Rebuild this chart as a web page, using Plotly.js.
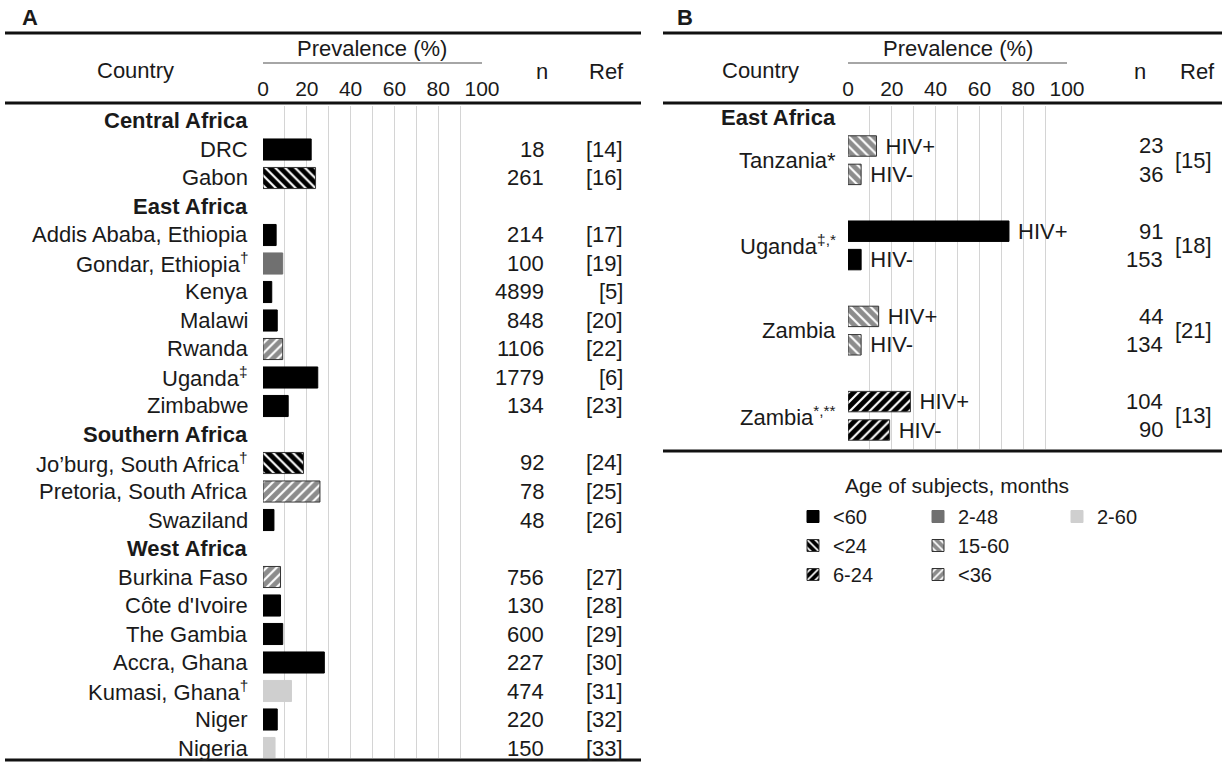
<!DOCTYPE html>
<html><head><meta charset="utf-8">
<script src="https://cdn.plot.ly/plotly-3.0.1.min.js"></script>
<style>html,body{margin:0;padding:0;background:#fff}</style>
</head><body><div id="chart" style="width:1226px;height:765px"></div>
<script>
// ---------- Panel A data ----------
const countriesA = ['DRC','Gabon','Addis Ababa, Ethiopia','Gondar, Ethiopia<sup>†</sup>','Kenya','Malawi','Rwanda','Uganda<sup>‡</sup>','Zimbabwe','Jo’burg, South Africa<sup>†</sup>','Pretoria, South Africa','Swaziland','Burkina Faso',"Côte d'Ivoire",'The Gambia','Accra, Ghana','Kumasi, Ghana<sup>†</sup>','Niger','Nigeria'];
const regionsA = ['Central Africa','Central Africa','East Africa','East Africa','East Africa','East Africa','East Africa','East Africa','East Africa','Southern Africa','Southern Africa','Southern Africa','West Africa','West Africa','West Africa','West Africa','West Africa','West Africa','West Africa'];
const prevA = [22,24,6,9,4,6.5,9,25,11.5,18.5,26,5,8,8,9,28,13,6.5,5.5];
const nA = [18,261,214,100,4899,848,1106,1779,134,92,78,48,756,130,600,227,474,220,150];
const refA = ['[14]','[16]','[17]','[19]','[5]','[20]','[22]','[6]','[23]','[24]','[25]','[26]','[27]','[28]','[29]','[30]','[31]','[32]','[33]'];
const ageA = ['<60','<24','<60','2-48','<60','<60','<36','<60','<60','<24','<36','<60','<36','<60','<60','<60','2-60','<60','2-60'];

// ---------- Panel B data ----------
const regionB = 'East Africa';
const countriesB = ['Tanzania*','Uganda<sup>‡,*</sup>','Zambia','Zambia<sup>*,**</sup>'];
const hivLabels = ['HIV+','HIV-'];
const prevBpos = [13,73.5,14,28.5];
const prevBneg = [6,6,6,19];
const nBpos = [23,91,44,104];
const nBneg = [36,153,134,90];
const refB = ['[15]','[18]','[21]','[13]'];
const ageB = ['15-60','<60','15-60','6-24'];

// ---------- Axis / legend text ----------
const tickVals = [0,20,40,60,80,100];
const tickText = ['0','20','40','60','80','100'];
const legendTitle = 'Age of subjects, months';
const ageCats = ['<60','<24','6-24','2-48','15-60','<36','2-60'];

// ---------- styles ----------
const STY = {
  '<60':  {bg:'#000000', shape:''},
  '<24':  {bg:'#000000', shape:'\\'},
  '6-24': {bg:'#000000', shape:'/'},
  '2-48': {bg:'#707070', shape:''},
  '15-60':{bg:'#8c8c8c', shape:'\\'},
  '<36':  {bg:'#8c8c8c', shape:'/'},
  '2-60': {bg:'#cfcfcf', shape:''}
};
const LEG = {'<60':['legend',1],'<24':['legend',2],'6-24':['legend',3],'2-48':['legend2',1],'15-60':['legend2',2],'<36':['legend2',3],'2-60':['legend3',1]};

const W=1226, H=765;
const px = x => x/W, py = y => 1 - y/H;
const FONT = 'Liberation Sans, Arial, sans-serif';
const TXT = '#1a1a1a';
const FS = 22;

// Row layout for A
const rowIdx = []; const headerRows = [];
let r = 0, lastReg = null;
countriesA.forEach((c,i)=>{
  if (regionsA[i] !== lastReg){ headerRows.push({name:regionsA[i], row:r}); r++; lastReg = regionsA[i]; }
  rowIdx.push(r); r++;
});
const A0 = 121, AS = 28.5, ATop = 106, ABot = 758;
const BS = 28.4, B0 = 117.6, BTop = 106, BBot = 449;
const slotPos = countriesB.map((c,i)=>1+3*i);
const slotNeg = countriesB.map((c,i)=>2+3*i);

function marker(cat){
  const s = STY[cat];
  const ln = s.shape ? '#333' : s.bg;
  return {color:s.bg, line:{color:ln, width:1},
    pattern:{shape:s.shape, bgcolor:s.bg, fgcolor:'#ffffff', size:7, solidity:0.3, fillmode:'replace'}};
}

const traces = [];
const shown = new Set();
ageCats.forEach(cat=>{
  const xs=[], ys=[];
  ageA.forEach((a,i)=>{ if(a===cat){ xs.push(prevA[i]); ys.push(rowIdx[i]); } });
  if (xs.length){
    traces.push({type:'bar', orientation:'h', x:xs, y:ys, width:0.74, xaxis:'x', yaxis:'y',
      name:cat, legendgroup:cat, showlegend:!shown.has(cat), legend:LEG[cat][0], legendrank:LEG[cat][1],
      marker:marker(cat), hoverinfo:'skip'});
    shown.add(cat);
  }
});
ageCats.forEach(cat=>{
  const xs=[], ys=[], tx=[];
  ageB.forEach((a,i)=>{ if(a===cat){ xs.push(prevBpos[i], prevBneg[i]); ys.push(slotPos[i], slotNeg[i]); tx.push('\u00a0'+hivLabels[0], '\u00a0'+hivLabels[1]); } });
  if (xs.length){
    traces.push({type:'bar', orientation:'h', x:xs, y:ys, width:0.72, xaxis:'x2', yaxis:'y2',
      text:tx, textposition:'outside', constraintext:'none', cliponaxis:false, textfont:{family:FONT, size:FS, color:TXT},
      name:cat, legendgroup:cat, showlegend:!shown.has(cat), legend:LEG[cat][0], legendrank:LEG[cat][1],
      marker:marker(cat), hoverinfo:'skip'});
    shown.add(cat);
  }
});

const ann = [];
function A(x,y,text,opt){ ann.push(Object.assign({x:x,y:y,text:text,showarrow:false,xref:'paper',yref:'paper',font:{family:FONT,size:FS,color:TXT},xanchor:'center',yanchor:'middle'},opt||{})); }
A(px(20),py(17),'<b>A</b>',{xanchor:'left'});
A(px(675),py(17),'<b>B</b>',{xanchor:'left'});
A(px(135),py(70),'Country');
A(px(372),py(48),'Prevalence (%)');
A(px(542),py(71),'n');
A(px(606),py(71),'Ref');
A(px(760),py(70),'Country');
A(px(958),py(48),'Prevalence (%)');
A(px(1140),py(71),'n');
A(px(1197),py(71),'Ref');
headerRows.forEach(h=>A(px(250),h.row,'<b>'+h.name+'</b>',{yref:'y',xanchor:'right'}));
countriesA.forEach((c,i)=>{
  A(px(250),rowIdx[i],c,{yref:'y',xanchor:'right'});
  A(px(546),rowIdx[i],String(nA[i]),{yref:'y',xanchor:'right'});
  A(px(625),rowIdx[i],refA[i],{yref:'y',xanchor:'right'});
});
A(px(838),0,'<b>'+regionB+'</b>',{yref:'y2',xanchor:'right'});
countriesB.forEach((c,i)=>{
  const mid = (slotPos[i]+slotNeg[i])/2;
  A(px(838),mid,c,{yref:'y2',xanchor:'right'});
  A(px(1165),slotPos[i],String(nBpos[i]),{yref:'y2',xanchor:'right'});
  A(px(1165),slotNeg[i],String(nBneg[i]),{yref:'y2',xanchor:'right'});
  A(px(1214),mid,refB[i],{yref:'y2',xanchor:'right'});
});
A(px(957),py(485),legendTitle,{font:{family:FONT,size:21,color:TXT}});

const shapes = [];
function L(x0,x1,y,w,c){ shapes.push({type:'line',xref:'paper',yref:'paper',x0:px(x0),x1:px(x1),y0:py(y),y1:py(y),line:{color:c||'#111',width:w}}); }
L(5,641,33,3); L(5,641,103,3); L(5,641,760,3);
L(663,1222,33,3); L(663,1222,103,3); L(663,1222,451,3);
L(263,482,63,1.5,'#888'); L(848,1067,63,1.5,'#888');

function xax(d){ return {domain:d, range:[0,100], side:'top', tickmode:'array', tickvals:tickVals, ticktext:tickText,
  showgrid:true, gridcolor:'#d4d4d4', gridwidth:1, zeroline:false, showline:false, ticks:'',
  minor:{tick0:0, dtick:10, showgrid:true, gridcolor:'#d4d4d4', gridwidth:1, ticks:''},
  tickfont:{family:FONT,size:21,color:TXT}, ticklabelstandoff:5, fixedrange:true}; }
function legend(xpx){ return {x:px(xpx), xanchor:'left', y:py(497), yanchor:'top', bgcolor:'rgba(0,0,0,0)',
  font:{family:FONT,size:20,color:TXT}, traceorder:'normal', tracegroupgap:0, itemclick:false, itemdoubleclick:false}; }

const layout = {
  width:W, height:H, margin:{l:0,r:0,t:0,b:0}, paper_bgcolor:'#fff', plot_bgcolor:'rgba(0,0,0,0)',
  barmode:'overlay', bargap:0, hovermode:false,
  xaxis: Object.assign(xax([px(263),px(482)]),{anchor:'y'}),
  yaxis: {domain:[py(ABot),py(ATop)], range:[(ABot-A0)/AS,(ATop-A0)/AS], visible:false, fixedrange:true},
  xaxis2: Object.assign(xax([px(848),px(1067)]),{anchor:'y2'}),
  yaxis2: {domain:[py(BBot),py(BTop)], range:[(BBot-B0)/BS,(BTop-B0)/BS], visible:false, fixedrange:true},
  legend: legend(793), legend2: legend(918), legend3: legend(1057),
  annotations: ann, shapes: shapes
};
Plotly.newPlot('chart', traces, layout, {staticPlot:true, displayModeBar:false});
</script></body></html>
